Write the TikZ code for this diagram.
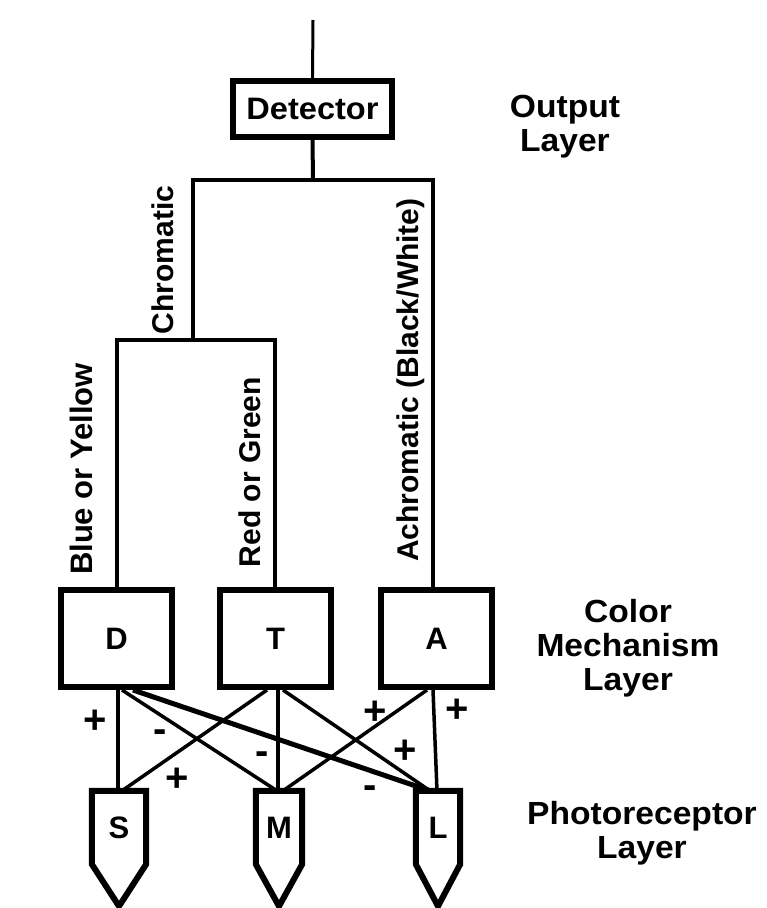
\documentclass[tikz,border=0pt]{standalone}
\usepackage{fontspec}
\setmainfont{Liberation Sans}
\newfontfamily\widefont[FakeStretch=1.05]{Liberation Sans}
\usetikzlibrary{calc}
\begin{document}
\begin{tikzpicture}[x=1pt,y=-1pt,
  every node/.style={inner sep=0pt},
  vlab/.style={font=\bfseries\fontsize{30}{34}\selectfont, rotate=90, anchor=base},
  layerlab/.style={font=\widefont\bfseries\fontsize{32}{34}\selectfont, align=center, anchor=north},
  detbox/.style={draw, line width=5.5pt, minimum width=159pt, minimum height=56pt,
                 font=\widefont\bfseries\fontsize{31}{34}\selectfont},
  mechbox/.style={draw, line width=6pt, minimum width=111pt, minimum height=97pt,
                  font=\bfseries\fontsize{31}{31}\selectfont},
  recbody/.style={minimum height=73pt, font=\bfseries\fontsize{31}{31}\selectfont},
  recline/.style={line width=6pt, line join=miter},
  tree/.style={line width=4pt, line join=miter},
  wire/.style={line width=3.5pt},
  thickwire/.style={line width=5pt},
  sign/.style={font=\bfseries\fontsize{40}{40}\selectfont}
]
\useasboundingbox (0,0) rectangle (767,908);

% output layer
\coordinate (in) at (313,20);
\node[detbox] (det) at (312.5,109) {Detector};
\coordinate (j1) at (313,180);
\coordinate (cl) at (193,180);
\coordinate (cr) at (433,180);
\coordinate (c2) at (193,340);
\coordinate (bl) at (117,340);
\coordinate (br) at (275,340);

% color mechanism layer
\node[mechbox] (D) at (116.5,638.5) {\raisebox{-5pt}{D}};
\node[mechbox] (T) at (275.5,638.5) {\raisebox{-5pt}{T}};
\node[mechbox] (A) at (436.5,638.5) {\raisebox{-5pt}{A}};

% photoreceptor layer
\node[recbody, minimum width=54pt] (S) at (119,827.5) {\raisebox{-7pt}{S}};
\node[recbody, minimum width=46pt] (M) at (279,827.5) {\raisebox{-10pt}{M}};
\node[recbody, minimum width=44pt] (L) at (438,827.5) {\raisebox{-16pt}{L}};
\foreach \r in {S,M,L}{
  \draw[recline] (\r.north west) -- (\r.north east) -- (\r.south east)
     -- ($(\r.south)+(0,42)$) -- (\r.south west) -- cycle;
}

% tree
\draw[line width=3pt] (in) -- (det.north);
\draw[tree] (det.south) -- (j1);
\draw[tree] (A.north -| cr) -- (cr) -- (cl) -- (c2);
\draw[tree] (D.north -| bl) -- (bl) -- (br) -- (T.north -| br);

% connectors
\draw[wire] ([xshift=1.5pt]D.south) -- ([xshift=-1pt]S.north);
\draw[wire] ([xshift=5.5pt]D.south) -- ([xshift=-2pt]M.north);
\draw[thickwire] ([xshift=16.5pt]D.south) -- ([xshift=-8pt]L.north);
\draw[wire] ([xshift=-8.5pt]T.south) -- ([xshift=3pt]S.north);
\draw[wire] ([xshift=2.5pt]T.south) -- ([xshift=-1pt]M.north);
\draw[wire] ([xshift=7.5pt]T.south) -- ([xshift=-8pt]L.north);
\draw[wire] ([xshift=-9.5pt]A.south) -- ([xshift=4pt]M.north);
\draw[wire] ([xshift=-3.5pt]A.south) -- ([xshift=-1pt]L.north);

% signs
\node[sign] (p1) at (95,722) {+};
\node[sign] (m1) at (160,736) {-};
\node[sign] (p2) at (177,780) {+};
\node[sign] (m2) at (262,758) {-};
\node[sign] (p3) at (375,713) {+};
\node[sign] (p4) at (457,711) {+};
\node[sign] (p5) at (405,752) {+};
\node[sign] (m3) at (370,792) {-};

% vertical labels
\node[vlab] (lchrom) at (173,260) {Chromatic};
\node[vlab, font=\bfseries\fontsize{31}{34}\selectfont] (lby) at (92,469) {Blue or Yellow};
\node[vlab] (lrg) at (260,472) {Red or Green};
\node[vlab] (lach) at (418,380) {Achromatic (Black/White)};

% layer labels
\node[layerlab] (lout) at (565,95) {Output\\Layer};
\node[layerlab] (lmech) at (628,599) {Color\\Mechanism\\Layer};
\node[layerlab] (lphot) at (642,801) {Photoreceptor\\Layer};
\end{tikzpicture}
\end{document}
